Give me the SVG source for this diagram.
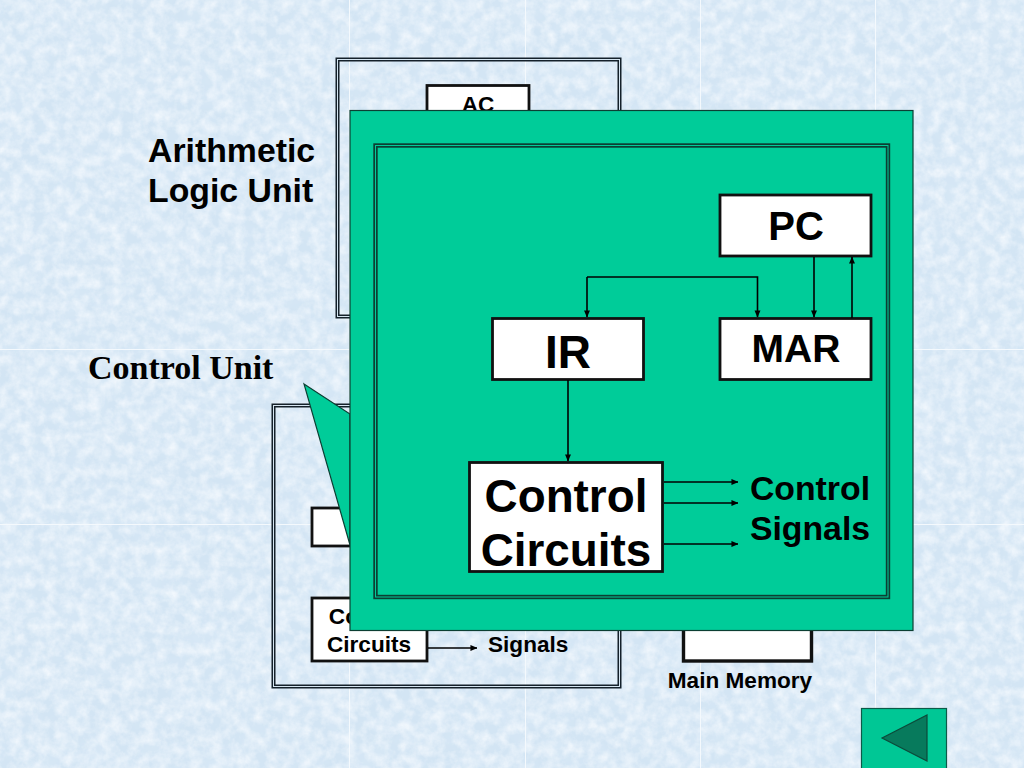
<svg xmlns="http://www.w3.org/2000/svg" width="1024" height="768" viewBox="0 0 1024 768">
<style>
text{font-family:"Liberation Sans",Arial,sans-serif;font-weight:bold;fill:#000}
.mid{text-anchor:middle}
.box{fill:#fff;stroke:#111;stroke-width:2.800}
.dbl{fill:none;stroke:#14202a;stroke-width:4}
.dbl2{fill:none;stroke:#d6e6f2;stroke-width:1}
.dblg{fill:none;stroke:#0c3f33;stroke-width:4.400}
.dblg2{fill:none;stroke:#00cc99;stroke-width:1}
.tile{stroke:#f4f9fd;stroke-width:1}
.c{fill:none;stroke:#000;stroke-width:1.600;marker-end:url(#ah)}
</style>
<defs>
<marker id="ah" viewBox="0 0 8 8" refX="7.500" refY="4" markerWidth="7" markerHeight="7" markerUnits="userSpaceOnUse" orient="auto"><path d="M0 0.600L8 4L0 7.400z" fill="#000"/></marker>
<filter id="dark" x="0" y="0" width="100%" height="100%"><feTurbulence type="fractalNoise" baseFrequency="0.035" numOctaves="5" seed="7"/><feColorMatrix values="0 0 0 0 0.70  0 0 0 0 0.82  0 0 0 0 0.93  1.600 0 0 0 -0.650"/></filter>
<filter id="light" x="0" y="0" width="100%" height="100%"><feTurbulence type="fractalNoise" baseFrequency="0.09" numOctaves="4" seed="21"/><feColorMatrix values="0 0 0 0 0.91  0 0 0 0 0.95  0 0 0 0 0.99  0 1.500 0 0 -0.480"/></filter>
</defs>
<g id="background">
<rect width="1024" height="768" fill="#d3e5f4"/>
<rect width="1024" height="768" filter="url(#dark)"/>
<rect width="1024" height="768" filter="url(#light)"/>
<path class="tile" d="M349.500 0V768M525.500 0V768M700.500 0V768M875.500 0V768M0 349.500H1024M0 524.500H1024"/>
</g>
<g id="alu-label"><text x="148" y="162" font-size="33.800">Arithmetic</text><text x="148" y="202" font-size="33.800">Logic Unit</text></g>
<g id="control-unit-label"><text x="88" y="379" font-size="34" style="font-family:'Liberation Serif',serif">Control Unit</text></g>
<g id="alu-frame"><rect class="dbl" x="337.500" y="59.500" width="282" height="257"/><rect class="dbl2" x="337.500" y="59.500" width="282" height="257"/></g>
<g id="ac"><rect class="box" x="427" y="85.500" width="102" height="40"/><text class="mid" x="478" y="112" font-size="22.500">AC</text></g>
<g id="cu-frame"><rect class="dbl" x="273.500" y="405.500" width="346" height="281"/><rect class="dbl2" x="273.500" y="405.500" width="346" height="281"/></g>
<g id="small-box"><rect class="box" x="312" y="508" width="115" height="38"/></g>
<g id="small-control-circuits"><rect class="box" x="312" y="598" width="115" height="63"/><text class="mid" x="369" y="624" font-size="22.600">Control</text><text class="mid" x="369" y="652" font-size="22.600">Circuits</text></g>
<g id="signals-label"><text x="488" y="652" font-size="22.600">Signals</text></g>
<g id="main-memory"><rect class="box" style="stroke-width:3.400" x="683.500" y="600" width="128" height="61"/><text class="mid" x="740" y="688" font-size="22.600">Main Memory</text></g>
<g id="callout">
<path d="M304 384L350 414V545z" fill="#00cc99" stroke="#0c3f33" stroke-width="1.200"/>
<rect x="350" y="110.500" width="563" height="520" fill="#00cc99" stroke="#0c3f33" stroke-width="1.200"/>
<rect class="dblg" x="375.500" y="145.500" width="512.500" height="451.500"/><rect class="dblg2" x="375.500" y="145.500" width="512.500" height="451.500"/>
</g>
<g id="pc"><rect class="box" x="720" y="195" width="151" height="61"/><text class="mid" x="796" y="240" font-size="40">PC</text></g>
<g id="ir"><rect class="box" x="492.500" y="318.500" width="151" height="61"/><text class="mid" x="568" y="368" font-size="46">IR</text></g>
<g id="mar"><rect class="box" x="720" y="318.500" width="151" height="61"/><text class="mid" x="796" y="362" font-size="39">MAR</text></g>
<g id="control-circuits"><rect class="box" x="469.500" y="462.500" width="193" height="109"/><text class="mid" x="566" y="512" font-size="45.800">Control</text><text class="mid" x="566" y="566" font-size="45.800">Circuits</text></g>
<g id="control-signals"><text class="mid" x="810" y="500" font-size="33.800">Control</text><text class="mid" x="810" y="540" font-size="33.800">Signals</text></g>
<g id="connectors">
<path class="c" d="M814 257V317"/>
<path class="c" d="M852 318V257"/>
<path class="c" d="M587 277H757.500V317"/>
<path class="c" d="M587 277V317"/>
<path class="c" d="M568 380V461"/>
<path class="c" d="M664 482H738"/>
<path class="c" d="M664 503H738"/>
<path class="c" d="M664 544H738"/>
<path class="c" d="M428 648H477"/>
</g>
<g id="back-button">
<rect x="861.500" y="708.500" width="85" height="62" fill="#00c795" stroke="#0c5a48" stroke-width="1.200"/>
<path d="M882 738L927 715V761z" fill="#077a5c" stroke="#0c4a3a" stroke-width="1.200"/>
</g>
</svg>
